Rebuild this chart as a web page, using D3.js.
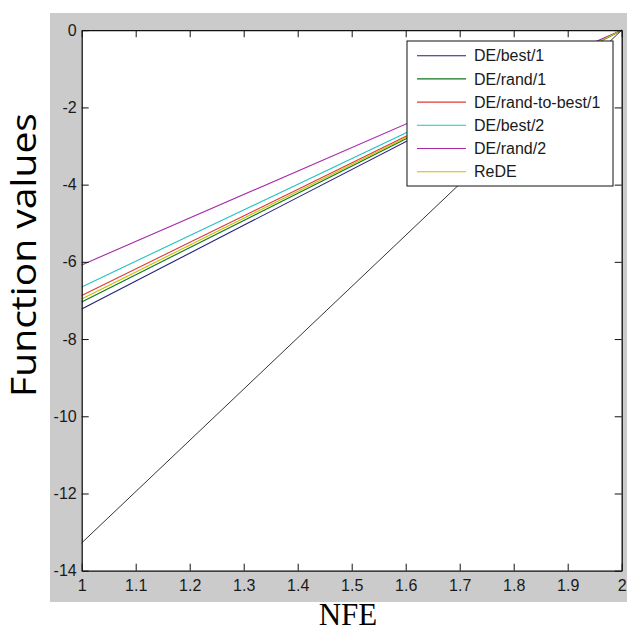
<!DOCTYPE html>
<html>
<head>
<meta charset="utf-8">
<script src="https://cdn.jsdelivr.net/npm/d3@7"></script>
<style>
  html, body { margin: 0; padding: 0; background: #ffffff; }
  svg { display: block; }
</style>
</head>
<body>
<svg id="chart" width="627" height="632"></svg>
<script>
// NFE range covered by every run
const nfe = [1, 2];

// Function values at the start and end of each run
const deBest1       = [-7.22, 0];
const deRand1       = [-7.04, 0];
const deRandToBest1 = [-6.87, 0];
const deBest2       = [-6.65, 0];
const deRand2       = [-6.08, 0];
const reDE          = [-6.96, 0];
const unlabeled     = [-13.28, 0];

const seriesNames = ["DE/best/1", "DE/rand/1", "DE/rand-to-best/1", "DE/best/2", "DE/rand/2", "ReDE"];
const seriesValues = [deBest1, deRand1, deRandToBest1, deBest2, deRand2, reDE];
const seriesColors = ["#1f1f7e", "#11751a", "#e03838", "#22c2c2", "#a82aa8", "#c2c200"];

const xTicks = [1, 1.1, 1.2, 1.3, 1.4, 1.5, 1.6, 1.7, 1.8, 1.9, 2];
const yTicks = [0, -2, -4, -6, -8, -10, -12, -14];

const svg = d3.select("#chart");

// grey figure background
svg.append("rect")
  .attr("x", 50).attr("y", 13)
  .attr("width", 577).attr("height", 589)
  .attr("fill", "#cbcbcb");

const plotLeft = 81.7, plotRight = 621.7, plotTop = 30.2, plotBottom = 570.7;
const x = d3.scaleLinear().domain([1, 2]).range([plotLeft, plotRight]);
const y = d3.scaleLinear().domain([-14, 0]).range([plotBottom, plotTop]);

// white axes area
svg.append("rect")
  .attr("x", plotLeft).attr("y", plotTop)
  .attr("width", plotRight - plotLeft).attr("height", plotBottom - plotTop)
  .attr("fill", "#ffffff");

const line = d3.line()
  .x(d => x(d[0]))
  .y(d => y(d[1]));

const toPoints = vals => vals.map((v, i) => [nfe[i], v]);

// curves
const plot = svg.append("g");
seriesValues.forEach((vals, i) => {
  plot.append("path")
    .datum(toPoints(vals))
    .attr("d", line)
    .attr("fill", "none")
    .attr("stroke", seriesColors[i])
    .attr("stroke-width", 1.1);
});
plot.append("path")
  .datum(toPoints(unlabeled))
  .attr("d", line)
  .attr("fill", "none")
  .attr("stroke", "#333333")
  .attr("stroke-width", 1);

// axes with inward ticks on all four sides
const tickFont = "'Liberation Sans', Arial, sans-serif";
const fmt = d => String(d);

const gBottom = svg.append("g")
  .attr("transform", `translate(0,${plotBottom})`)
  .call(d3.axisBottom(x).tickValues(xTicks).tickFormat(fmt).tickSizeInner(-7).tickSizeOuter(0).tickPadding(9));
const gLeft = svg.append("g")
  .attr("transform", `translate(${plotLeft},0)`)
  .call(d3.axisLeft(y).tickValues(yTicks).tickFormat(fmt).tickSizeInner(-7).tickSizeOuter(0).tickPadding(5));
const gTop = svg.append("g")
  .attr("transform", `translate(0,${plotTop})`)
  .call(d3.axisTop(x).tickValues(xTicks).tickFormat("").tickSizeInner(-7).tickSizeOuter(0));
const gRight = svg.append("g")
  .attr("transform", `translate(${plotRight},0)`)
  .call(d3.axisRight(y).tickValues(yTicks).tickFormat("").tickSizeInner(-7).tickSizeOuter(0));

[gBottom, gLeft, gTop, gRight].forEach(g => {
  g.select(".domain").attr("stroke", "#111").attr("stroke-width", 1.3);
  g.selectAll(".tick line").attr("stroke", "#111").attr("stroke-width", 1);
  g.selectAll("text")
    .attr("font-family", tickFont)
    .attr("font-size", 16)
    .attr("fill", "#1a1a1a");
});

// legend
const legend = svg.append("g");
legend.append("rect")
  .attr("x", 407).attr("y", 41)
  .attr("width", 206).attr("height", 145)
  .attr("fill", "#ffffff")
  .attr("stroke", "#111")
  .attr("stroke-width", 1);

seriesNames.forEach((name, i) => {
  const ry = 55.7 + i * 23.2;
  legend.append("line")
    .attr("x1", 417).attr("x2", 466)
    .attr("y1", ry).attr("y2", ry)
    .attr("stroke", seriesColors[i])
    .attr("stroke-width", 1.1);
  legend.append("text")
    .attr("x", 474).attr("y", ry)
    .attr("dy", "0.36em")
    .attr("font-family", tickFont)
    .attr("font-size", 16)
    .attr("fill", "#1a1a1a")
    .text(name);
});

// axis titles
svg.append("text")
  .attr("transform", "translate(36,255) rotate(-90)")
  .attr("text-anchor", "middle")
  .attr("font-family", "'Open Sans', sans-serif")
  .attr("font-size", 34)
  .attr("textLength", 284)
  .attr("lengthAdjust", "spacingAndGlyphs")
  .attr("fill", "#000")
  .text("Function values");

svg.append("text")
  .attr("x", 348).attr("y", 625)
  .attr("text-anchor", "middle")
  .attr("font-family", "'Liberation Serif', 'Times New Roman', serif")
  .attr("font-size", 31)
  .attr("fill", "#000")
  .text("NFE");
</script>
</body>
</html>
